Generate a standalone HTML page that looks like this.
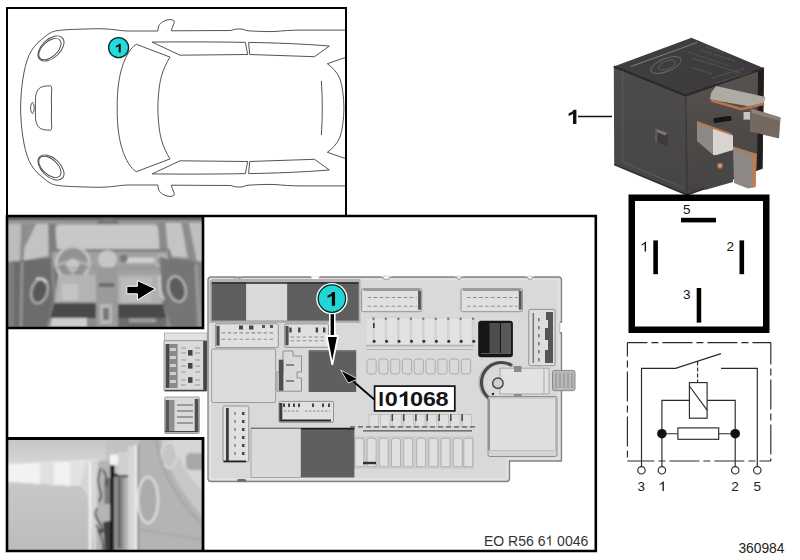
<!DOCTYPE html>
<html><head><meta charset="utf-8">
<style>
html,body{margin:0;padding:0;background:#fff;width:800px;height:560px;overflow:hidden}
svg{display:block}
text{font-family:"Liberation Sans",sans-serif}
</style></head>
<body>
<svg width="800" height="560" viewBox="0 0 800 560">
<defs>
<filter id="bl1" x="-10%" y="-10%" width="120%" height="120%"><feGaussianBlur stdDeviation="0.9"/></filter>
<filter id="bl2" x="-10%" y="-10%" width="120%" height="120%"><feGaussianBlur stdDeviation="1.2"/></filter>
<filter id="bl3" x="-5%" y="-5%" width="110%" height="110%"><feGaussianBlur stdDeviation="0.45"/></filter>
<filter id="bl4" x="-5%" y="-5%" width="110%" height="110%"><feGaussianBlur stdDeviation="0.6"/></filter>
<clipPath id="cp1"><rect x="8" y="217" width="195" height="111"/></clipPath>
<clipPath id="cp2"><rect x="8" y="439" width="195" height="112"/></clipPath>
</defs>
<rect width="800" height="560" fill="#fff"/>

<g id="car" fill="none" stroke="#4a4a4a" stroke-width="0.95">
 <g id="carhalf">
  <path d="M20.6 108 C20.7 90 23.5 68 29 55.3 C32 49 36 43.6 41.8 39.3 C45 36.5 48 34 51.4 32.3 C56 30.2 64 29.6 80 29.2 C90 28.9 97 28.5 105 28.9 C115 29.4 120 30.8 128 31 L157.8 31 C158.2 28 158.5 26 159.6 24.5 C162 21.5 166 19.6 170 19.6 C172.5 19.7 174.3 20.4 174.3 21.6 C174 24 172 28 171.2 30.8 L230.8 30.5 C235 29 238 28.8 241 29 C244 29.2 245 30.5 248 30.8 C258 31.3 265 31.8 275 31.5 C285 30.6 290 30.2 300 30.1 L346 30.1"/>
  <ellipse cx="51" cy="48.5" rx="15.6" ry="9.2" transform="rotate(-43 51 48.5)"/>
  <ellipse cx="49.9" cy="49.1" rx="13.4" ry="7.6" transform="rotate(-43 49.9 49.1)"/>
  <path d="M50.6 85.8 C45 85.8 40.5 86.3 38.2 89.5 C36 92.5 35.5 96 35.4 101 L35.4 108"/>
  <path d="M50.6 85.8 C51.6 86 51.8 88 51.6 90 C51.2 96 51.4 102 51.6 108"/>
  <path d="M32.4 102.3 C31 104 30.6 106 30.6 108 M32.4 102.3 C33.8 104 34.2 106 34.2 108"/>
  <path d="M117.2 108 C117 90 119 72 125.7 57.9 C129 51 132.5 46.5 136.4 44.3 L170 57.1 C166.5 63 163 69.5 161 78 C159 86 158 97 157.9 108"/>
  <path d="M152.1 42.1 L180 55.2 L247.6 54.5 L245.4 42.4 C215 41.8 180 41.8 152.1 42.1 Z"/>
  <path d="M248.6 42.4 L249.7 54.5 L314.5 56.7 L329.4 46 C305 44 275 42.8 248.6 42.4 Z"/>
  <path d="M346 57.3 L327.3 63.7 C332 67 337 72 339.6 78 C342.5 86 343.7 96 343.9 108"/>
  <path d="M321.4 81 C322 90 322.3 99 322.3 108"/>
 </g>
 <use href="#carhalf" transform="translate(0 216) scale(1 -1)"/>
</g>
<circle cx="118.6" cy="47.6" r="10" fill="#22dcdc" stroke="#0b2b2b" stroke-width="1.3"/>

<path d="M120.75 52.60 H118.63 V46.20 C117.86 46.78 116.95 47.21 115.90 47.49 V45.95 C116.46 45.80 117.06 45.53 117.71 45.12 C118.36 44.71 118.80 44.24 119.05 43.70 H120.75 Z" fill="#111"/>
<g id="fuse" filter="url(#bl3)"><rect x="164.5" y="333" width="42.5" height="8" fill="#e2e2e2" stroke="#a0a0a0" stroke-width="0.7"/>
<rect x="164" y="340.6" width="43" height="50.7" rx="1" fill="#dadada" stroke="#8c8c8c" stroke-width="0.8"/>
<rect x="165.6" y="344" width="4" height="44" fill="#4a4a4a"/><rect x="169.6" y="344" width="8" height="44" fill="#8a8a8a"/>
<rect x="170" y="348" width="6" height="3" fill="#d0d0d0"/>
<rect x="170" y="356" width="6" height="3" fill="#d0d0d0"/>
<rect x="170" y="364" width="6" height="3" fill="#d0d0d0"/>
<rect x="170" y="372" width="6" height="3" fill="#d0d0d0"/>
<rect x="170" y="380" width="6" height="3" fill="#d0d0d0"/>
<rect x="203.2" y="341" width="3.7" height="50" fill="#444"/>
<rect x="188" y="350" width="4.5" height="5.6" fill="#444"/>
<rect x="188" y="363" width="4.5" height="5.6" fill="#444"/>
<rect x="188" y="377.2" width="4.5" height="5.6" fill="#444"/>
<path d="M181 348 H186 M195 348 H200" stroke="#999" stroke-width="1"/>
<path d="M181 353 H186 M195 353 H200" stroke="#999" stroke-width="1"/>
<path d="M181 360 H186 M195 360 H200" stroke="#999" stroke-width="1"/>
<path d="M181 366 H186 M195 366 H200" stroke="#999" stroke-width="1"/>
<path d="M181 372 H186 M195 372 H200" stroke="#999" stroke-width="1"/>
<path d="M181 380 H186 M195 380 H200" stroke="#999" stroke-width="1"/>
<path d="M181 385 H186 M195 385 H200" stroke="#999" stroke-width="1"/>
<path d="M165 390.3 H206" stroke="#444" stroke-width="1.2"/>
<rect x="164.7" y="397" width="34.7" height="36.5" rx="1" fill="#dadada" stroke="#8c8c8c" stroke-width="0.8"/>
<rect x="165.5" y="400" width="4" height="31" fill="#555"/><rect x="169.5" y="400" width="5" height="31" fill="#8e8e8e"/>
<rect x="194.7" y="399" width="3.8" height="33" fill="#505050"/>
<path d="M177 405 H193" stroke="#8a8a8a" stroke-width="1.6"/>
<path d="M177 411 H193" stroke="#8a8a8a" stroke-width="1.6"/>
<path d="M177 417 H193" stroke="#8a8a8a" stroke-width="1.6"/>
<path d="M177 423 H193" stroke="#8a8a8a" stroke-width="1.6"/>
<path d="M165 431.6 H198" stroke="#444" stroke-width="1.2"/>
<path d="M211 277 H558.5 Q561.5 277 561.5 280 V322 H559.5 V333 H561.5 V461 H509.5 V478.5 Q509.5 481.5 506.5 481.5 H211 Q208 481.5 208 478.5 V280 Q208 277 211 277 Z" fill="#d9d9d9" stroke="#828282" stroke-width="1.3"/>
<path d="M210.5 279.5 H559 V459 H507 V479 H210.5 Z" fill="none" stroke="#e4e4e4" stroke-width="1.4"/>
<path d="M233 276.3 L236 274.5 H242 L244.5 276.3 Z" fill="#fff"/><path d="M233 276.6 L236.5 279.5 L244.5 276.6" fill="none" stroke="#8a8a8a" stroke-width="0.9"/>
<path d="M310.5 276.3 L313 279.3 H317.5 L320 276.3 Z" fill="#fff"/>
<path d="M382.3 276.2 L383.8 279.2 H388.9 L390.4 276.2 Z" fill="#fff" stroke="#8a8a8a" stroke-width="0.9"/>
<path d="M381.3 276 H391.4" stroke="#fff" stroke-width="1.2"/>
<path d="M456.3 276.2 L457.8 279.2 H460.0 L461.5 276.2 Z" fill="#fff" stroke="#8a8a8a" stroke-width="0.9"/>
<path d="M455.3 276 H462.5" stroke="#fff" stroke-width="1.2"/>
<path d="M527 276.2 L528.5 279.2 H531.5 L533 276.2 Z" fill="#fff" stroke="#8a8a8a" stroke-width="0.9"/>
<path d="M526 276 H534" stroke="#fff" stroke-width="1.2"/>
<path d="M209.5 283 Q209.5 279 213.5 279 H360.5 V323 H209.5 Z" fill="#b2b2b2"/>
<rect x="211.7" y="282.5" width="34.5" height="38.5" fill="#5f5f5f"/>
<rect x="246.2" y="282.5" width="41" height="38.5" fill="#d9d9d9"/>
<rect x="287.2" y="282.5" width="71.5" height="38.5" fill="#5f5f5f"/>
<path d="M211.7 283 H358.7" stroke="#262626" stroke-width="1.3"/>
<path d="M211.7 320.8 H358.7" stroke="#9a9a9a" stroke-width="0.8"/>
<rect x="215.6" y="323.8" width="62.7" height="23.8" rx="1.5" fill="#e0e0e0" stroke="#8a8a8a" stroke-width="0.9"/>
<rect x="216.4" y="325.8" width="3.2" height="19.8" fill="#4e4e4e"/>
<path d="M221.6 332.9 H273.3" stroke="#8e8e8e" stroke-width="1.1" stroke-dasharray="3.5 2.5"/>
<path d="M221.6 339.3 H273.3" stroke="#8e8e8e" stroke-width="1.1" stroke-dasharray="3.5 2.5"/>
<rect x="239" y="325.5" width="4" height="4" fill="#444"/><rect x="249" y="325.5" width="4.4" height="4" fill="#444"/><rect x="262" y="325" width="3" height="3" fill="#555"/><rect x="270" y="325" width="3" height="3" fill="#555"/>
<rect x="284.6" y="323.9" width="44.0" height="23.4" rx="1.5" fill="#e0e0e0" stroke="#8a8a8a" stroke-width="0.9"/>
<rect x="285.4" y="325.9" width="3.2" height="19.4" fill="#4e4e4e"/>
<path d="M290.6 337 H323.6" stroke="#8e8e8e" stroke-width="1.1" stroke-dasharray="3.5 2.5"/>
<path d="M290.6 340.7 H323.6" stroke="#8e8e8e" stroke-width="1.1" stroke-dasharray="3.5 2.5"/>
<rect x="289.3" y="327.5" width="2.4" height="5" fill="#444"/>
<rect x="298.1" y="327.5" width="2.4" height="5" fill="#444"/>
<rect x="315.7" y="327.5" width="2.4" height="5" fill="#444"/>
<rect x="323.0" y="327.5" width="2.4" height="5" fill="#444"/>
<rect x="361.6" y="288.7" width="60.1" height="23.0" rx="1.5" fill="#e0e0e0" stroke="#8a8a8a" stroke-width="0.9"/>
<rect x="418.1" y="290.7" width="2.8" height="19.0" fill="#555"/>
<path d="M363.6 290.0 H419.7" stroke="#5a5a5a" stroke-width="1.2"/>
<path d="M367.6 297.5 H416.7" stroke="#8e8e8e" stroke-width="1.1" stroke-dasharray="3.5 2.5"/>
<path d="M367.6 306.3 H416.7" stroke="#8e8e8e" stroke-width="1.1" stroke-dasharray="3.5 2.5"/>
<rect x="461" y="288.7" width="61.4" height="23.0" rx="1.5" fill="#e0e0e0" stroke="#8a8a8a" stroke-width="0.9"/>
<rect x="518.8" y="290.7" width="2.8" height="19.0" fill="#555"/>
<path d="M463 290.0 H520.4" stroke="#5a5a5a" stroke-width="1.2"/>
<path d="M467 297.5 H517.4" stroke="#8e8e8e" stroke-width="1.1" stroke-dasharray="3.5 2.5"/>
<path d="M467 306.3 H517.4" stroke="#8e8e8e" stroke-width="1.1" stroke-dasharray="3.5 2.5"/>
<rect x="366" y="317.5" width="108" height="27.5" fill="#d2d2d2"/>
<rect x="366.5" y="318.3" width="6.3" height="26" fill="#e0e0e0"/>
<rect x="374.7" y="318.3" width="10.0" height="26" fill="#e2e2e2"/>
<rect x="387.1" y="318.3" width="10.0" height="26" fill="#e2e2e2"/>
<rect x="399.6" y="318.3" width="10.0" height="26" fill="#e2e2e2"/>
<rect x="412.1" y="318.3" width="10.0" height="26" fill="#e2e2e2"/>
<rect x="424.5" y="318.3" width="10.0" height="26" fill="#e2e2e2"/>
<rect x="436.9" y="318.3" width="10.0" height="26" fill="#e2e2e2"/>
<rect x="449.4" y="318.3" width="10.0" height="26" fill="#e2e2e2"/>
<rect x="461.8" y="318.3" width="10.0" height="26" fill="#e2e2e2"/>
<circle cx="374.1" cy="341.3" r="1.5" fill="#2e2e2e"/>
<circle cx="373.5" cy="318.8" r="1.2" fill="#7a7a7a"/>
<circle cx="386.6" cy="341.3" r="1.5" fill="#2e2e2e"/>
<circle cx="385.9" cy="318.8" r="1.2" fill="#7a7a7a"/>
<circle cx="399.0" cy="341.3" r="1.5" fill="#2e2e2e"/>
<circle cx="398.4" cy="318.8" r="1.2" fill="#7a7a7a"/>
<circle cx="411.5" cy="341.3" r="1.5" fill="#2e2e2e"/>
<circle cx="410.9" cy="318.8" r="1.2" fill="#7a7a7a"/>
<circle cx="423.9" cy="341.3" r="1.5" fill="#2e2e2e"/>
<circle cx="423.3" cy="318.8" r="1.2" fill="#7a7a7a"/>
<circle cx="436.4" cy="341.3" r="1.5" fill="#2e2e2e"/>
<circle cx="435.8" cy="318.8" r="1.2" fill="#7a7a7a"/>
<circle cx="448.8" cy="341.3" r="1.5" fill="#2e2e2e"/>
<circle cx="448.2" cy="318.8" r="1.2" fill="#7a7a7a"/>
<circle cx="461.2" cy="341.3" r="1.5" fill="#2e2e2e"/>
<circle cx="460.6" cy="318.8" r="1.2" fill="#7a7a7a"/>
<circle cx="473.7" cy="341.3" r="1.5" fill="#2e2e2e"/>
<circle cx="473.1" cy="318.8" r="1.2" fill="#7a7a7a"/>
<rect x="373" y="323" width="1.6" height="5" fill="#333"/>
<path d="M366 345.8 H474" stroke="#a6a6a6" stroke-width="1"/>
<path d="M366 349.5 H473" stroke="#b4b4b4" stroke-width="1"/>
<rect x="367.0" y="359" width="9.2" height="15" rx="2.5" fill="none" stroke="#acacac" stroke-width="1"/>
<rect x="378.8" y="359" width="9.2" height="15" rx="2.5" fill="none" stroke="#acacac" stroke-width="1"/>
<rect x="390.6" y="359" width="9.2" height="15" rx="2.5" fill="none" stroke="#acacac" stroke-width="1"/>
<rect x="402.4" y="359" width="9.2" height="15" rx="2.5" fill="none" stroke="#acacac" stroke-width="1"/>
<rect x="414.2" y="359" width="9.2" height="15" rx="2.5" fill="none" stroke="#acacac" stroke-width="1"/>
<rect x="426.0" y="359" width="9.2" height="15" rx="2.5" fill="none" stroke="#acacac" stroke-width="1"/>
<rect x="437.8" y="359" width="9.2" height="15" rx="2.5" fill="none" stroke="#acacac" stroke-width="1"/>
<rect x="449.6" y="359" width="9.2" height="15" rx="2.5" fill="none" stroke="#acacac" stroke-width="1"/>
<rect x="461.4" y="359" width="9.2" height="15" rx="2.5" fill="none" stroke="#acacac" stroke-width="1"/>
<rect x="478.2" y="320.7" width="34.7" height="36.5" rx="3" fill="#161616"/>
<rect x="489.5" y="323" width="10.5" height="31" fill="#4e4e4e"/><rect x="501" y="323" width="10" height="31" fill="#585858"/>
<path d="M481 353.5 H511" stroke="#5a5a5a" stroke-width="1"/>
<rect x="528.8" y="309.4" width="26.2" height="56.3" rx="1.5" fill="#dedede" stroke="#8a8a8a" stroke-width="0.9"/>
<path d="M546 312 H553 V363 H545 V350 H548 V340 H545 V328 H548 V320 H546 Z" fill="#555"/>
<rect x="532.5" y="313" width="1.6" height="50" fill="#7a7a7a"/>
<rect x="538" y="318" width="1.6" height="3.5" fill="#777"/>
<rect x="538" y="326" width="1.6" height="3.5" fill="#777"/>
<rect x="538" y="334" width="1.6" height="3.5" fill="#777"/>
<rect x="538" y="342" width="1.6" height="3.5" fill="#777"/>
<rect x="538" y="350" width="1.6" height="3.5" fill="#777"/>
<rect x="538" y="358" width="1.6" height="3.5" fill="#777"/>
<circle cx="500" cy="382.5" r="21" fill="#d6d6d6" stroke="#a0a0a0" stroke-width="1"/>
<path d="M512 365.5 A20 20 0 1 0 512 399.5" fill="none" stroke="#4a4a4a" stroke-width="3.2"/>
<circle cx="500" cy="382.5" r="15" fill="#dadada"/>
<path d="M500 368.2 H549 V394 H500 Z" fill="#e2e2e2" stroke="#9a9a9a" stroke-width="0.8"/>
<rect x="514" y="366" width="7.5" height="6" fill="#8a8a8a"/><rect x="514" y="394" width="7.5" height="6" fill="#8a8a8a"/>
<path d="M544 368.5 V394" stroke="#aaa" stroke-width="1"/>
<circle cx="497.9" cy="383.2" r="5.2" fill="#d0d0d0" stroke="#4a4a4a" stroke-width="1.5"/>
<circle cx="493" cy="394" r="1.3" fill="#333"/>
<rect x="552.5" y="370.4" width="22.5" height="20.3" rx="2" fill="#b8b8b8" stroke="#808080" stroke-width="0.9"/>
<path d="M556 373 V388 M560 373 V388 M564 373 V388 M568 373 V388 M572 373 V388" stroke="#8e8e8e" stroke-width="1"/>
<rect x="488" y="396.5" width="69" height="60" rx="2" fill="#d4d4d4" stroke="#8e8e8e" stroke-width="1"/>
<rect x="489.5" y="398" width="66" height="52.5" fill="#dedede" stroke="#b0b0b0" stroke-width="0.7"/>
<path d="M489 399 V450" stroke="#7a7a7a" stroke-width="1.2"/>
<rect x="369.0" y="414.5" width="9.4" height="12.5" fill="#e0e0e0" stroke="#b0b0b0" stroke-width="0.6"/>
<rect x="380.6" y="414.5" width="9.4" height="12.5" fill="#e0e0e0" stroke="#b0b0b0" stroke-width="0.6"/>
<rect x="392.3" y="414.5" width="9.4" height="12.5" fill="#e0e0e0" stroke="#b0b0b0" stroke-width="0.6"/>
<rect x="403.9" y="414.5" width="9.4" height="12.5" fill="#e0e0e0" stroke="#b0b0b0" stroke-width="0.6"/>
<rect x="415.6" y="414.5" width="9.4" height="12.5" fill="#e0e0e0" stroke="#b0b0b0" stroke-width="0.6"/>
<rect x="427.2" y="414.5" width="9.4" height="12.5" fill="#e0e0e0" stroke="#b0b0b0" stroke-width="0.6"/>
<rect x="438.9" y="414.5" width="9.4" height="12.5" fill="#e0e0e0" stroke="#b0b0b0" stroke-width="0.6"/>
<rect x="450.6" y="414.5" width="9.4" height="12.5" fill="#e0e0e0" stroke="#b0b0b0" stroke-width="0.6"/>
<rect x="462.2" y="414.5" width="9.4" height="12.5" fill="#e0e0e0" stroke="#b0b0b0" stroke-width="0.6"/>
<rect x="391.5" y="414" width="1.6" height="7" fill="#4a4a4a"/>
<rect x="402.9" y="414" width="1.6" height="7" fill="#4a4a4a"/>
<rect x="415.1" y="414" width="1.6" height="7" fill="#4a4a4a"/>
<rect x="426.4" y="414" width="1.6" height="7" fill="#4a4a4a"/>
<rect x="438.3" y="414" width="1.6" height="7" fill="#4a4a4a"/>
<rect x="450.0" y="414" width="1.6" height="7" fill="#4a4a4a"/>
<rect x="461.4" y="414" width="1.6" height="7" fill="#4a4a4a"/>
<path d="M350 426.8 H476" stroke="#555" stroke-width="1.2" stroke-dasharray="5 3"/>
<path d="M363 430.9 H472" stroke="#555" stroke-width="1.4"/>
<rect x="354" y="436" width="120" height="33" fill="#cecece"/>
<path d="M354.9 466.7 V440.5 Q354.9 438.3 356.9 438.3 H361.9 Q363.9 438.3 363.9 440.5 V466.7 Z" fill="#e0e0e0" stroke="#a4a4a4" stroke-width="0.8"/>
<path d="M367.1 466.7 V440.5 Q367.1 438.3 369.1 438.3 H374.1 Q376.1 438.3 376.1 440.5 V466.7 Z" fill="#e0e0e0" stroke="#a4a4a4" stroke-width="0.8"/>
<path d="M379.3 466.7 V440.5 Q379.3 438.3 381.3 438.3 H386.3 Q388.3 438.3 388.3 440.5 V466.7 Z" fill="#e0e0e0" stroke="#a4a4a4" stroke-width="0.8"/>
<path d="M391.5 466.7 V440.5 Q391.5 438.3 393.5 438.3 H398.5 Q400.5 438.3 400.5 440.5 V466.7 Z" fill="#e0e0e0" stroke="#a4a4a4" stroke-width="0.8"/>
<path d="M403.7 466.7 V440.5 Q403.7 438.3 405.7 438.3 H410.7 Q412.7 438.3 412.7 440.5 V466.7 Z" fill="#e0e0e0" stroke="#a4a4a4" stroke-width="0.8"/>
<path d="M416.7 466.7 V440.5 Q416.7 438.3 418.7 438.3 H423.7 Q425.7 438.3 425.7 440.5 V466.7 Z" fill="#e0e0e0" stroke="#a4a4a4" stroke-width="0.8"/>
<path d="M428.9 466.7 V440.5 Q428.9 438.3 430.9 438.3 H435.9 Q437.9 438.3 437.9 440.5 V466.7 Z" fill="#e0e0e0" stroke="#a4a4a4" stroke-width="0.8"/>
<path d="M441.0 466.7 V440.5 Q441.0 438.3 443.0 438.3 H448.0 Q450.0 438.3 450.0 440.5 V466.7 Z" fill="#e0e0e0" stroke="#a4a4a4" stroke-width="0.8"/>
<path d="M453.3 466.7 V440.5 Q453.3 438.3 455.3 438.3 H460.3 Q462.3 438.3 462.3 440.5 V466.7 Z" fill="#e0e0e0" stroke="#a4a4a4" stroke-width="0.8"/>
<path d="M463.8 466.7 V440.5 Q463.8 438.3 465.8 438.3 H470.8 Q472.8 438.3 472.8 440.5 V466.7 Z" fill="#e0e0e0" stroke="#a4a4a4" stroke-width="0.8"/>
<rect x="363" y="461.8" width="13" height="2.4" fill="#333"/>
<rect x="211.6" y="349" width="64" height="53.5" rx="1.5" fill="#dcdcdc" stroke="#959595" stroke-width="0.9"/>
<path d="M283 351 H293 V356 H301.5 V372 H297 V378 H301.5 V391.2 H277 V372 H283 Z" fill="#dadada" stroke="#888" stroke-width="0.9"/>
<rect x="278.8" y="359.7" width="4.6" height="31" fill="#505050"/>
<rect x="286" y="364" width="8" height="2" fill="#888"/><rect x="286" y="380" width="8" height="2" fill="#888"/>
<rect x="308.6" y="350.2" width="47.6" height="41.8" fill="#5f5f5f"/>
<path d="M309 350.8 H356" stroke="#7a7a7a" stroke-width="1.2"/>
<rect x="223" y="406" width="25.8" height="55.7" rx="1.5" fill="#e0e0e0" stroke="#8a8a8a" stroke-width="0.9"/>
<rect x="226" y="408" width="2.8" height="53" fill="#3e3e3e"/>
<path d="M223.5 461.4 H246" stroke="#222" stroke-width="1.8"/>
<rect x="242" y="412" width="2.5" height="3" fill="#444"/><rect x="234" y="412" width="2" height="3" fill="#999"/>
<rect x="242" y="420" width="2.5" height="3" fill="#444"/><rect x="234" y="420" width="2" height="3" fill="#999"/>
<rect x="242" y="428" width="2.5" height="3" fill="#444"/><rect x="234" y="428" width="2" height="3" fill="#999"/>
<rect x="242" y="436" width="2.5" height="3" fill="#444"/><rect x="234" y="436" width="2" height="3" fill="#999"/>
<rect x="242" y="444" width="2.5" height="3" fill="#444"/><rect x="234" y="444" width="2" height="3" fill="#999"/>
<rect x="242" y="452" width="2.5" height="3" fill="#444"/><rect x="234" y="452" width="2" height="3" fill="#999"/>
<rect x="279" y="401.4" width="54.5" height="20.9" rx="1.5" fill="#e0e0e0" stroke="#8a8a8a" stroke-width="0.9"/>
<path d="M281 420.6 H331" stroke="#2a2a2a" stroke-width="2"/>
<rect x="279.3" y="403" width="3" height="18.5" fill="#3a3a3a"/>
<path d="M236.5 481.5 L238 479 H245 L247 481.5" fill="#6a6a6a"/>
<rect x="283" y="403.5" width="2" height="3.5" fill="#444"/>
<rect x="288" y="403.5" width="2" height="3.5" fill="#444"/>
<rect x="293" y="403.5" width="2" height="3.5" fill="#444"/>
<rect x="298" y="403.5" width="2" height="3.5" fill="#444"/>
<rect x="312" y="403.5" width="2" height="3.5" fill="#444"/>
<rect x="322" y="403.5" width="2" height="3.5" fill="#444"/>
<rect x="328" y="403.5" width="2" height="3.5" fill="#444"/>
<path d="M284 411 H300 M305 411 H330" stroke="#888" stroke-width="1.2" stroke-dasharray="2.5 1.5"/>
<rect x="251" y="428" width="50" height="49.5" fill="#dadada" stroke="#999" stroke-width="0.8"/>
<rect x="301" y="428" width="53.4" height="49.5" fill="#5f5f5f"/>
<path d="M251 428.3 H301" stroke="#7a7a7a" stroke-width="1.2"/><path d="M301 428.6 H354.4" stroke="#1e1e1e" stroke-width="1.6"/></g>
<g id="callout">
<path d="M332.3 312 V340" stroke="#fff" stroke-width="6.6"/>
<path d="M332.3 312 V340" stroke="#000" stroke-width="3.4"/>
<path d="M326.6 336 L338 336 L332.3 364.8 Z" fill="#000" stroke="#fff" stroke-width="1.8" stroke-linejoin="miter"/>
<circle cx="331.9" cy="298.6" r="14.9" fill="#22d6d8" stroke="#fff" stroke-width="1.6"/>
<circle cx="331.9" cy="298.6" r="13.7" fill="none" stroke="#0b2b2b" stroke-width="1.3"/>
<path d="M335.07 305.70 H331.81 V295.84 C330.62 296.74 329.22 297.40 327.60 297.84 V295.46 C328.46 295.23 329.38 294.82 330.38 294.19 C331.38 293.56 332.07 292.84 332.45 292.00 H335.07 Z" fill="#0a0a0a"/>
<path d="M376 401 L350 378.5" stroke="#000" stroke-width="1.7"/>
<path d="M340.7 370.1 L358 379 L348.2 383 Z" fill="#000" stroke="#fff" stroke-width="0.8"/>
<rect x="374.6" y="386.1" width="80.2" height="24.8" fill="#fff" stroke="#111" stroke-width="1.7"/>
<g font-size="20.6" font-weight="bold" fill="#151515">
<text transform="translate(378.3 406.1)">I</text>
<text transform="translate(384.8 406.1) scale(1.14 1)">0</text>
<text transform="translate(410.1 406.1) scale(1.14 1)">0</text>
<text transform="translate(423.1 406.1) scale(1.12 1)">6</text>
<text transform="translate(435.5 406.1) scale(1.14 1)">8</text>
</g>
<path d="M407.39 406.10 H404.04 V395.52 C402.81 396.48 401.37 397.20 399.70 397.67 V395.12 C400.58 394.87 401.54 394.42 402.57 393.75 C403.60 393.07 404.31 392.30 404.70 391.40 H407.39 Z" fill="#151515"/>
</g>
<g id="photo1" clip-path="url(#cp1)">
  <rect x="8" y="217" width="195" height="111" fill="#8a8a8a"/>
  <g filter="url(#bl1)">
  <rect x="6" y="215" width="200" height="5.5" fill="#565656"/>
  <rect x="6" y="220" width="200" height="4.5" fill="#979797"/>
  <path d="M97 221 Q108 216 119 221 L119 225 L97 225 Z" fill="#7a7a7a"/>
  <!-- left windows -->
  <path d="M6 224 L21.5 224 L20 263 L6 266 Z" fill="#bcbcbc"/>
  <path d="M21.5 224 L36 224 L24.5 248 L23.5 261 L20 263 Z" fill="#8e8e8e"/>
  <path d="M36 224 L48.4 224 L48.4 256 L23.5 260.5 L24.5 248 Z" fill="#c3c3c3"/>
  <path d="M48.4 224 L55 224 L57 262 L50 262 Z" fill="#7e7e7e"/>
  <!-- windshield -->
  <path d="M60 224.5 L153 224.5 Q158 224.5 158.5 229 L160 249 L57 249 L55.5 229 Q56 224.5 60 224.5 Z" fill="#c8c8c8"/>
  <!-- right pillar & windows -->
  <path d="M158 222 L165.4 222 L168.5 258 L160 258 Z" fill="#8a8a8a"/>
  <path d="M165.4 223 L181.4 223 L188 258 L168.5 256 Z" fill="#c4c4c4"/>
  <path d="M181.4 223 L189 223 L197 262 L188.5 262 Z" fill="#8c8c8c"/>
  <path d="M189 223 L206 223 L206 262 L197 262 Z" fill="#bfbfbf"/>
  <!-- dashboard -->
  <path d="M50 249 L170 249 L172 258 L50 258 Z" fill="#7c7c7c"/>
  <path d="M52 251.5 L168 251.5 L168 275 L52 275 Z" fill="#a0a0a0"/>
  <rect x="126" y="257.5" width="28" height="5.5" fill="#cfcfcf"/>
  <circle cx="123.7" cy="258.3" r="4" fill="#7a7a7a"/>
  <circle cx="107.5" cy="259.5" r="9.4" fill="#c6c6c6"/>
    <!-- steering wheel -->
  <circle cx="72.8" cy="263.2" r="16.5" fill="#929292" stroke="#c2c2c2" stroke-width="3.2"/>
  <path d="M57 265 Q73 258 89 265" stroke="#b4b4b4" stroke-width="3" fill="none"/>
  <path d="M72.8 268 V279" stroke="#b0b0b0" stroke-width="3"/>
  <circle cx="72.8" cy="265" r="6.5" fill="#c6c6c6"/>
  <circle cx="161.5" cy="261" r="6" fill="#9a9a9a" stroke="#bdbdbd" stroke-width="1.5"/>
  <path d="M52 268 H168 M118 286 H160 M118 292 H160" stroke="#8c8c8c" stroke-width="1"/>
  <!-- left door -->
  <path d="M6 262 L50 258 L58 275 L50 328 L6 328 Z" fill="#6c6c6c"/>
  <path d="M6 262 L14 262 L14 328 L6 328 Z" fill="#7c7c7c"/>
  <path d="M22 262 L21 328" stroke="#959595" stroke-width="2.5"/>
  <path d="M52 262 L55 300 L48 328" stroke="#8a8a8a" stroke-width="3" fill="none"/>
  <ellipse cx="39.5" cy="291" rx="8" ry="12.5" fill="#585858" stroke="#a8a8a8" stroke-width="2.5" transform="rotate(15 39.5 291)"/>
  <path d="M36 279 Q43 277 46 283" stroke="#d8d8d8" stroke-width="2" fill="none"/>
  <!-- lower center -->
  <path d="M58 275 L100 275 L100 302 L55 302 Z" fill="#b4b4b4"/>
  <path d="M62 284 L78 284 L78 300 L62 300 Z" fill="#c4c4c4"/>
  <path d="M54 303.5 L97 303.5 L97 318 L50 318 Z" fill="#484848"/>
  <path d="M52 318 L87 318 L87 327 L50 327 Z" fill="#cecece"/>
  <!-- console -->
  <path d="M96 268 L118 268 L118 328 L96 328 Z" fill="#9a9a9a"/>
  <rect x="99" y="283" width="15" height="4" fill="#6a6a6a"/>
  <rect x="100" y="304" width="12" height="20" fill="#b8b8b8"/>
  <rect x="103" y="308" width="6" height="12" fill="#777"/>
  <!-- right lower -->
  <path d="M118 275 L162 275 L162 304 L118 304 Z" fill="#b0b0b0"/>
  <rect x="121" y="278" width="30" height="24" fill="#bcbcbc"/>
  <path d="M118 304 L163 304 L166 318 L118 318 Z" fill="#4a4a4a"/>
  <path d="M118 318 L166 318 L166 328 L118 328 Z" fill="#6c6c6c"/><path d="M129 318.5 L156 318.5 L156 322.5 L129 322.5 Z" fill="#9c9c9c"/>
  <!-- right door -->
  <path d="M160 258 L206 262 L206 328 L172 328 L162 300 Z" fill="#747474"/>
  <path d="M194 262 L206 262 L206 328 L196 328 Z" fill="#848484"/>
  <ellipse cx="177" cy="289" rx="8.5" ry="13" fill="#5c5c5c" stroke="#b0b0b0" stroke-width="2.5" transform="rotate(-15 177 289)"/>
  <path d="M160 275 Q158 290 164 300" stroke="#d0d0d0" stroke-width="2" fill="none"/>
  <path d="M196 265 L200 328" stroke="#a0a0a0" stroke-width="2"/>
  </g>
  <path d="M126.8 286.3 H137.4 V280.6 L155.5 288.8 L137.4 300 V293.8 H126.8 Z" fill="#000" stroke="#fff" stroke-width="1"/>
</g>
<g id="photo2" clip-path="url(#cp2)">
  <rect x="8" y="439" width="195" height="112" fill="#c2c2c2"/>
  <g filter="url(#bl1)">
  <linearGradient id="p2top" x1="0" y1="0" x2="0" y2="1"><stop offset="0" stop-color="#c4c4c4"/><stop offset="1" stop-color="#d6d6d6"/></linearGradient>
  <path d="M6 437 L106 437 L106 460 L6 464 Z" fill="url(#p2top)"/>
  <path d="M6 464 L100 460 L100 486 L70 486 L6 482 Z" fill="#f2f2f2"/>
  <rect x="40" y="463" width="14" height="21" fill="#e0e0e0"/>
  <rect x="70" y="462" width="16" height="24" fill="#e2e2e2"/>
  <linearGradient id="p2low" x1="0" y1="0" x2="0" y2="1"><stop offset="0" stop-color="#c8c8c8"/><stop offset="1" stop-color="#bcbcbc"/></linearGradient>
  <path d="M6 482 L70 486 Q84 489 88 499 L94 553 L6 553 Z" fill="url(#p2low)"/>
  <path d="M86 462 L100 460 L100 553 L94 553 L88 499 Q86 490 80 486 Z" fill="#d6d6d6"/>
  <rect x="89" y="462" width="2" height="90" fill="#f6f6f6"/>
  <!-- wires & connector -->
  <path d="M98 462 L110 460 L110 553 L96 553 Z" fill="#b4b4b4"/>
  <rect x="104.5" y="478" width="5.5" height="26" fill="#7a7a7a"/>
  <path d="M101 468 Q96 478 100 490 Q103 496 99 502 M97 508 Q93 515 99 522 Q104 528 100 535 M96 525 Q100 533 108 531 M103 470 Q108 476 106 486" stroke="#2a2a2a" stroke-width="1.5" fill="none"/>
  <path d="M103 522 L116 520 L118 553 L105 553 Z" fill="#3e3e3e"/><path d="M98 530 Q104 540 103 553" stroke="#333" stroke-width="1.5" fill="none"/>
  <rect x="110" y="465" width="4" height="88" fill="#141414"/>
  <rect x="114" y="475" width="14" height="78" fill="#8e8e8e"/>
  <rect x="124" y="478" width="4" height="72" fill="#b0b0b0"/>
  <rect x="113" y="474" width="15" height="2.6" fill="#1e1e1e"/>
  <rect x="118" y="478" width="2.5" height="70" fill="#5a5a5a"/>
  <rect x="109.8" y="454.5" width="8.6" height="10.3" fill="#f4f4f4"/>
  <rect x="118" y="452" width="10" height="23" fill="#d0d0d0"/>
  <rect x="128" y="446" width="6.4" height="107" fill="#d6d6d6"/>
  <rect x="134.4" y="445" width="3" height="108" fill="#ededed"/>
  <rect x="137.5" y="445" width="1.4" height="108" fill="#7a7a7a"/>
  <!-- right door -->
  <rect x="139" y="437" width="70" height="116" fill="#b4b4b4"/>
  <path d="M160 437 Q168 480 206 520 L206 437 Z" fill="#c8c8c8"/>
  <path d="M172 437 Q180 470 206 495 L206 437 Z" fill="#d6d6d6"/>
  <rect x="186" y="453" width="20" height="17" rx="5" fill="#a8a8a8"/>
  <ellipse cx="169" cy="455" rx="8" ry="13" fill="#c6c6c6" stroke="#e0e0e0" stroke-width="1.5"/>
  <path d="M156 439 Q164 490 206 528" stroke="#a4a4a4" stroke-width="2" fill="none"/>
  <ellipse cx="148" cy="500" rx="10" ry="23" fill="#acacac" stroke="#dcdcdc" stroke-width="2.5"/>
  <path d="M140 530 L206 540" stroke="#a8a8a8" stroke-width="2"/>
  </g>
</g>
<g fill="none" stroke="#000">
  <path d="M7 216 V8 H346 V216" stroke-width="2"/>
  <path d="M7 216 H595.8 V551 H7 Z" stroke-width="2.6"/>
  <path d="M203 217 V328 H7" stroke-width="2.6"/>
  <path d="M7 438.5 H203 V551" stroke-width="2.8"/>
</g>
<text x="484" y="545.6" font-size="14" fill="#333">EO R56 6</text><text x="557.1" y="545.6" font-size="14" fill="#333">0046</text><path d="M550.64 545.60 H549.41 V537.82 C549.12 538.10 548.73 538.38 548.23 538.68 C547.73 538.99 547.29 539.21 546.90 539.38 V538.20 C547.59 537.86 548.19 537.46 548.71 536.99 C549.22 536.52 549.58 536.06 549.80 535.60 H550.64 Z" fill="#333"/>
<g id="relay" filter="url(#bl4)">
<defs>
<linearGradient id="rtop" x1="0" y1="0" x2="1" y2="1"><stop offset="0" stop-color="#424042"/><stop offset="1" stop-color="#3a383a"/></linearGradient>
<linearGradient id="rright" x1="0" y1="0" x2="0" y2="1"><stop offset="0" stop-color="#57524f"/><stop offset="1" stop-color="#464242"/></linearGradient>
<linearGradient id="rfront" x1="0" y1="0" x2="0" y2="1"><stop offset="0" stop-color="#4d4b4c"/><stop offset="1" stop-color="#464446"/></linearGradient>
</defs>
<path d="M613.8 66.5 L691.5 37.7 L764 68.2 L685.5 95.5 Z" fill="url(#rtop)"/>
<path d="M613.8 66.5 L685.5 95.5 L687 195 L614.2 164.6 Z" fill="url(#rfront)"/>
<path d="M685.5 95.5 L764 68.2 L762.5 168 L687 195 Z" fill="url(#rright)"/>
<path d="M758 70 L764 68.2 L762.5 168 L757 170 Z" fill="#221f1e"/>
<path d="M613.8 66.5 L685.5 95.5 L764 68.2" fill="none" stroke="#2c2a2a" stroke-width="2.2"/><path d="M685.8 97 L687 194" stroke="#3a3838" stroke-width="1.6"/>
<path d="M614.2 164.6 L687 195 L762.5 168" fill="none" stroke="#2c2a29" stroke-width="1.5"/>
<path d="M622.6 71 L622.8 162 L684 188" fill="none" stroke="#5c5957" stroke-width="1.2"/>
<path d="M631 66.5 L697 42.5" stroke="#8a8785" stroke-width="0.9"/>
<ellipse cx="666" cy="65" rx="16" ry="6.5" fill="none" stroke="#6e6b69" stroke-width="0.9" transform="rotate(-22 666 65)"/>
<ellipse cx="667" cy="65" rx="9" ry="4" fill="none" stroke="#656260" stroke-width="0.8" transform="rotate(-22 667 65)"/>
<g stroke="#5f5c5a" stroke-width="1.2" stroke-dasharray="1.5 1.2" fill="none">
<path d="M688 52 L730 66"/><path d="M692 58 L740 73"/><path d="M700 50 L735 61"/><path d="M690 67 L712 74"/>
<path d="M712 78 L745 68"/><path d="M716 83 L752 72"/><path d="M706 47 L724 53"/>
</g>
<path d="M655 128.5 L668 133 L668 146 L655 141.5 Z" fill="#3e3b39"/><path d="M655 128.5 L668 133 L665 135.5 L657.5 132.5 Z" fill="#77736f"/><path d="M655 128.5 L657.5 132.5 L657.5 143 L655 141.5 Z" fill="#5e5a57"/>
<path d="M750 108 L780.5 117.5 L779 138.5 L750 131.5 Z" fill="#75695f"/>
<path d="M752 109 L780.5 117.5 L780 121 L752 113 Z" fill="#8c8078"/>
<rect x="743.5" y="112" width="6.5" height="7.6" fill="#c8c4c0"/>
<path d="M711 93 L716 86 L765.6 97.1 L763.9 102.5 L752.8 107 L710 99.5 Z" fill="#aeaaa4"/>
<path d="M711.4 99.3 L741.4 107.8 L763.9 102.5 L764.5 105 L741.4 110.5 L711 101.8 Z" fill="#b3744c"/>
<rect x="713.5" y="117" width="18" height="5" rx="1.5" fill="#141312" transform="rotate(-8 722 119)"/>
<path d="M697 122 L732 134.5 L732 157 L712 154 L697 141 Z" fill="#8e8984"/>
<path d="M713 127.5 L733 135.2 L733 158 L713 155 Z" fill="#d8d4d0"/>
<path d="M697 121 L732 133.5 L732 135.5 L697 123.2 Z" fill="#b87850"/>
<path d="M733 146.5 L756.5 154 L755.5 187 L748 188.5 L734 183 Z" fill="#8d8884"/>
<path d="M752.5 152.5 L756.5 154 L755.5 187 L752 187.5 Z" fill="#bb7d54"/>
<path d="M733 146.5 L756.5 154 L756.5 156 L733 148.5 Z" fill="#b87850"/>
<path d="M700 160 L733 150 L733 182 L705 190 Z" fill="#4a4644"/>
<circle cx="720" cy="165.7" r="3" fill="#b07048"/>
<circle cx="720" cy="165.7" r="1.3" fill="#e0b090"/>
</g>
<path d="M576.40 124.10 H572.99 V113.81 C571.75 114.75 570.29 115.44 568.60 115.90 V113.41 C569.49 113.18 570.46 112.74 571.50 112.08 C572.55 111.43 573.27 110.67 573.66 109.80 H576.40 Z" fill="#111"/>
<line x1="578" y1="116.5" x2="612" y2="116.5" stroke="#111" stroke-width="1.3"/>
<rect x="631.75" y="197.75" width="134.5" height="132" fill="none" stroke="#000" stroke-width="6.5"/>
<rect x="681" y="217.8" width="35" height="4.6" fill="#000"/>
<rect x="653.3" y="240.4" width="4.6" height="33.8" fill="#000"/>
<rect x="739.5" y="240.4" width="4.6" height="33.8" fill="#000"/>
<rect x="696.7" y="288" width="4.5" height="34.6" fill="#000"/>
<g font-size="13.5" fill="#111">
<text x="683" y="214">5</text>
<path d="M646.05 251.40 H644.63 V243.86 C644.29 244.12 643.83 244.39 643.25 244.69 C642.67 244.99 642.15 245.20 641.70 245.36 V244.22 C642.51 243.90 643.20 243.51 643.80 243.05 C644.40 242.59 644.82 242.14 645.08 241.70 H646.05 Z" fill="#111"/>
<text x="726.5" y="251.4">2</text>
<text x="683" y="299.3">3</text>
</g>
<g fill="none" stroke="#2a2a2a" stroke-width="1.15">
  <g stroke-dasharray="30 4 7 4">
  <path d="M627.4 342.6 H771" stroke-dashoffset="10"/>
  <path d="M627.4 342.6 V461" stroke-dashoffset="16"/>
  <path d="M770.8 342.6 V461" stroke-dashoffset="8"/>
  <path d="M627.4 461 H771" stroke-dashoffset="3"/>
  </g>
  <path d="M641.5 466.6 V368.3 H675.5 L721 353.6"/>
  <path d="M697.6 361.5 V382.5" stroke-dasharray="4 2"/>
  <path d="M721 368.3 H757.3 V466.6"/>
  <rect x="689.4" y="382.6" width="17.7" height="35.6"/>
  <path d="M689.4 386 L707.1 410.2"/>
  <path d="M661.9 466.6 V400.4 H689.4"/>
  <path d="M735.2 466.6 V400.4 H707.1"/>
  <path d="M661.9 433.7 H677.9 M718.7 433.7 H735.2"/>
  <rect x="677.9" y="427.9" width="40.8" height="11.4"/>
  <circle cx="641.5" cy="470.3" r="3.7" fill="#fff"/>
  <circle cx="661.9" cy="470.3" r="3.7" fill="#fff"/>
  <circle cx="735.2" cy="470.3" r="3.7" fill="#fff"/>
  <circle cx="757.3" cy="470.3" r="3.7" fill="#fff"/>
</g>
<circle cx="661.9" cy="433.7" r="4.8" fill="#111"/>
<circle cx="735.2" cy="433.7" r="4.8" fill="#111"/>
<g font-size="13.5" fill="#222" text-anchor="middle">
<text x="641.3" y="491">3</text>
</g><path d="M663.90 491.00 H662.50 V483.53 C662.16 483.80 661.71 484.07 661.14 484.36 C660.56 484.65 660.05 484.87 659.60 485.03 V483.89 C660.40 483.57 661.09 483.19 661.68 482.73 C662.27 482.28 662.69 481.84 662.94 481.40 H663.90 Z" fill="#222"/><g font-size="13.5" fill="#222" text-anchor="middle">
<text x="735.1" y="491">2</text>
<text x="757.2" y="491">5</text>
</g>
<text x="738.4" y="552.5" font-size="13.8" fill="#222">360984</text>
</svg>
</body></html>
